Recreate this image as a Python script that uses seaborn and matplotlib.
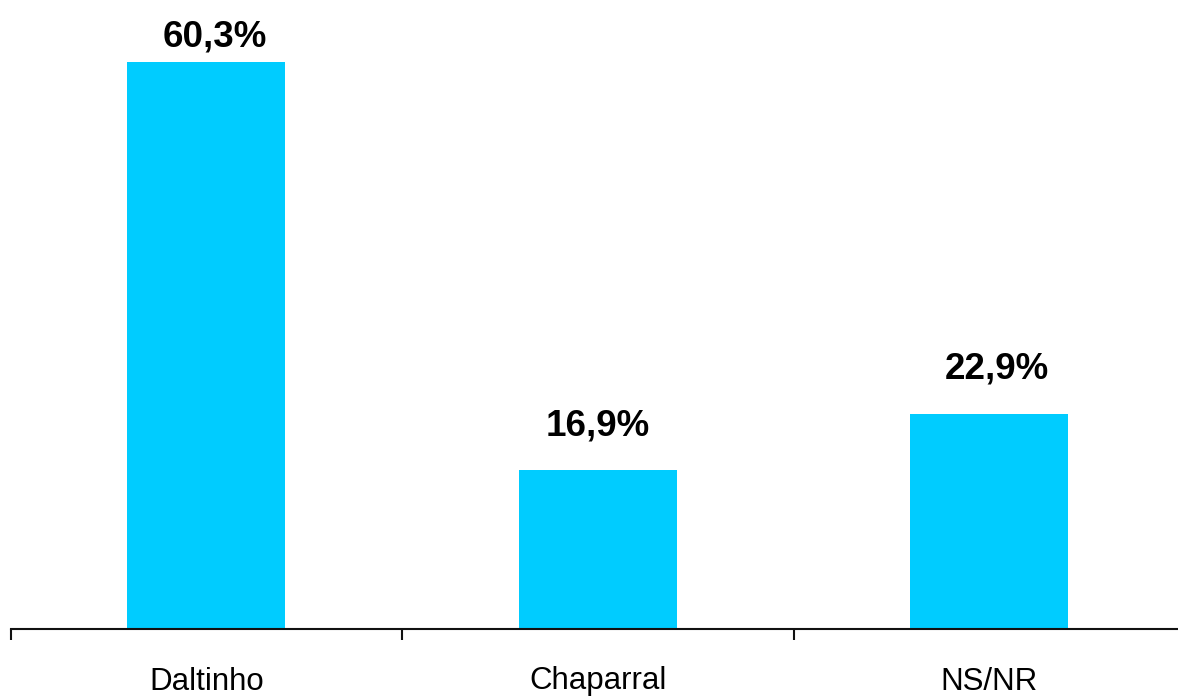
import matplotlib
matplotlib.use("Agg")
import matplotlib.pyplot as plt
import seaborn as sns
import pandas as pd

categories = ["Daltinho", "Chaparral", "NS/NR"]
values = [60.3, 16.9, 22.9]
labels = ["60,3%", "16,9%", "22,9%"]

sns.set_theme(style="white")
plt.rcParams['font.family'] = ['Liberation Sans', 'DejaVu Sans']

df = pd.DataFrame({"cat": categories, "val": values})

fig = plt.figure(figsize=(11.78, 6.97), dpi=100)
ax = fig.add_axes([10.5 / 1178, 1 - 629 / 697, 1 - 10.5 / 1178, 609 / 697])

sns.barplot(data=df, x="cat", y="val", color="#00CCFF", width=0.404,
            saturation=1, ax=ax, edgecolor="none")

px_per_unit = 9.40
ymax = 609 / px_per_unit
ax.set_xlim(-0.5, (1178 - 10.5) / 391.5 - 0.5)
ax.set_ylim(0, ymax)

# label placement (Excel-style: above bar, kept inside plot area)
gap = 35 / px_per_unit
text_h = 27 / px_per_unit
label_dx = [8.5, 0.5, 7.5]  # small horizontal nudges in pixels
for i, (v, lab) in enumerate(zip(values, labels)):
    y = min(v + gap, ymax - text_h)
    ax.annotate(lab, (i, y), xytext=(label_dx[i] * 0.72, 0), textcoords="offset points",
                ha="center", va="baseline", fontsize=26.5, fontweight="bold",
                color="black", annotation_clip=False)

for s in ["top", "right", "left"]:
    ax.spines[s].set_visible(False)
ax.spines["bottom"].set_color("#111111")
ax.spines["bottom"].set_linewidth(1.5)

ax.set_yticks([])
ax.set_xticks([-0.5, 0.5, 1.5])
ax.set_xticklabels([])
ax.set_xticks(range(len(categories)), minor=True)
ax.set_xticklabels(categories, minor=True, fontsize=22.5, color="black")
ax.tick_params(axis="x", which="major", length=8, width=1.5, color="#111111",
               bottom=True, direction="out")
ax.tick_params(axis="x", which="minor", length=0, pad=27, bottom=True)
ax.set_xlabel("")
ax.set_ylabel("")

fig.savefig("out.png", dpi=100)
